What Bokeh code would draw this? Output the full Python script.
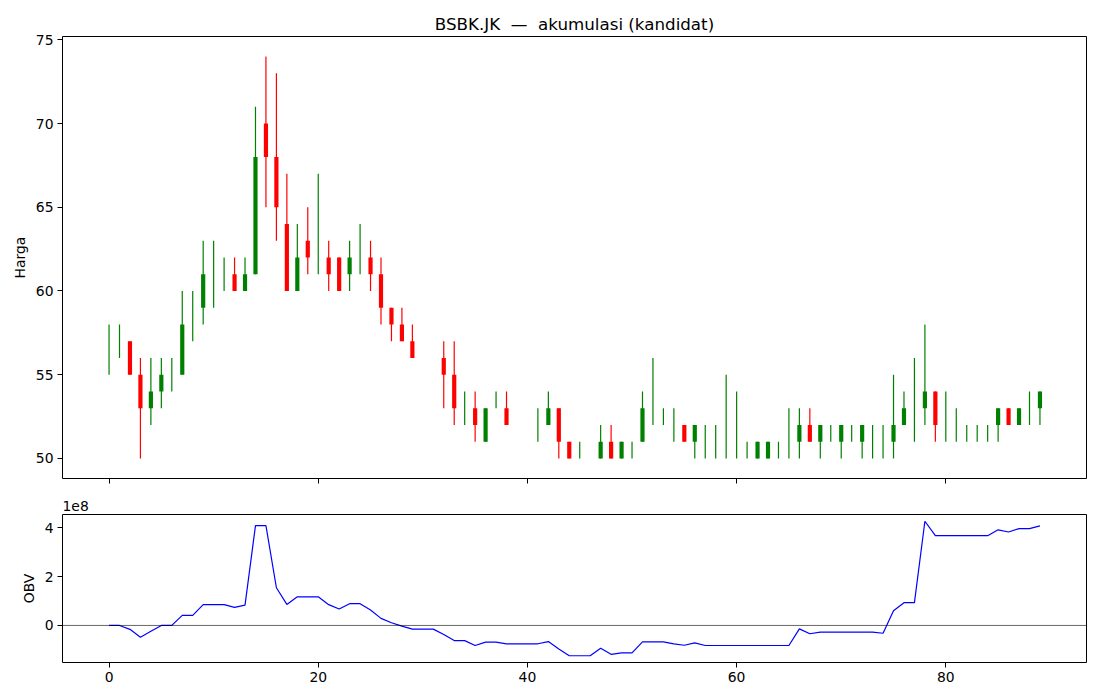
from bokeh.plotting import figure
from bokeh.layouts import column
from bokeh.models import Range1d, FixedTicker, Span, ColumnDataSource, CustomJSTickFormatter
from bokeh.embed import file_html
from bokeh.resources import INLINE

# ---- data ----
idx = list(range(90))
opens = [57, 57, 57, 55, 53, 54, 55, 55, 58, 59,
         61, 61, 61, 60, 61, 70, 68, 64, 60, 63,
         62, 62, 62, 61, 62, 62, 61, 59, 58, 57,
         56, 56, 56, 55, 53, 53, 51, 53, 53, 52,
         52, 52, 52, 53, 51, 50, 50, 50, 51, 50,
         51, 51, 53, 53, 52, 52, 51, 51, 51, 51,
         51, 51, 50, 50, 51, 51, 51, 52, 51, 52,
         51, 52, 51, 52, 51, 51, 52, 53, 53, 54,
         52, 52, 52, 52, 52, 52, 53, 52, 53, 53]
highs = [58, 58, 57, 56, 56, 56, 56, 60, 60, 63,
         63, 62, 62, 62, 71, 74, 73, 67, 64, 65,
         67, 63, 62, 63, 64, 63, 62, 59, 59, 58,
         56, 56, 57, 57, 54, 54, 53, 54, 54, 52,
         52, 53, 54, 53, 51, 51, 50, 52, 52, 51,
         51, 54, 56, 53, 53, 52, 52, 52, 52, 55,
         54, 51, 51, 51, 51, 53, 53, 53, 52, 52,
         52, 52, 52, 52, 52, 55, 54, 56, 58, 54,
         54, 53, 52, 52, 52, 53, 53, 53, 54, 54]
lows = [55, 56, 55, 50, 52, 53, 54, 55, 57, 58,
        59, 60, 60, 60, 61, 65, 63, 60, 60, 61,
        61, 60, 60, 60, 61, 60, 58, 57, 57, 56,
        56, 56, 53, 52, 52, 51, 51, 53, 52, 52,
        52, 51, 52, 50, 50, 50, 50, 50, 50, 50,
        50, 51, 52, 52, 51, 51, 50, 50, 50, 50,
        50, 50, 50, 50, 50, 50, 50, 51, 50, 51,
        50, 51, 50, 50, 50, 50, 52, 51, 52, 51,
        51, 51, 51, 51, 51, 51, 52, 52, 52, 52]
closes = [57, 57, 55, 53, 54, 55, 55, 58, 58, 61,
          61, 61, 60, 61, 68, 68, 65, 60, 62, 62,
          62, 61, 60, 62, 62, 61, 59, 58, 57, 56,
          56, 56, 55, 53, 53, 52, 53, 53, 52, 52,
          52, 52, 53, 51, 50, 50, 50, 51, 50, 51,
          51, 53, 53, 53, 52, 51, 52, 51, 51, 51,
          51, 51, 51, 51, 51, 51, 52, 51, 52, 52,
          52, 52, 52, 52, 51, 52, 53, 53, 54, 52,
          52, 52, 52, 52, 52, 53, 52, 53, 53, 54]
obv = [0.00, 0.00, -0.16, -0.48, -0.24, 0.00, 0.00, 0.41, 0.41, 0.85,
       0.85, 0.85, 0.74, 0.83, 4.08, 4.08, 1.54, 0.86, 1.17, 1.17,
       1.17, 0.85, 0.67, 0.89, 0.89, 0.63, 0.29, 0.11, -0.03, -0.15,
       -0.15, -0.15, -0.37, -0.62, -0.62, -0.82, -0.68, -0.68, -0.75, -0.75,
       -0.75, -0.75, -0.66, -0.96, -1.24, -1.24, -1.24, -0.93, -1.18, -1.12,
       -1.12, -0.67, -0.67, -0.67, -0.75, -0.81, -0.71, -0.82, -0.82, -0.82,
       -0.82, -0.82, -0.82, -0.82, -0.82, -0.82, -0.14, -0.34, -0.27, -0.27,
       -0.27, -0.27, -0.27, -0.27, -0.32, 0.60, 0.93, 0.93, 4.26, 3.67,
       3.67, 3.67, 3.67, 3.67, 3.67, 3.91, 3.82, 3.96, 3.96, 4.07]
obv = [v * 1e8 for v in obv]

title_text = "BSBK.JK \u00a0\u2014\u00a0 akumulasi (kandidat)"
x_ticks = [0, 20, 40, 60, 80]
price_ticks = [50, 55, 60, 65, 70, 75]
obv_ticks = [0, 2e8, 4e8]
obv_tick_labels = {0: "0", 200000000: "2", 400000000: "4"}
obv_scale_text = "1e8"

FONT = "DejaVu Sans"

colors = ["green" if c >= o else "red" for o, c in zip(opens, closes)]
src = ColumnDataSource(dict(
    x=idx, o=opens, h=highs, l=lows, c=closes,
    top=[max(o, c) for o, c in zip(opens, closes)],
    bot=[min(o, c) for o, c in zip(opens, closes)],
    col=colors,
))

xr = Range1d(-4.45, 93.45)


def style(p):
    p.grid.visible = False
    p.outline_line_color = "black"
    p.outline_line_width = 1
    p.axis.axis_line_color = None
    p.axis.minor_tick_line_color = None
    p.axis.major_tick_out = 5
    p.axis.major_tick_in = 0
    p.axis.major_tick_line_color = "black"
    p.axis.major_label_text_font = FONT
    p.axis.major_label_text_font_size = "13.9px"
    p.axis.major_label_text_color = "black"
    p.axis.axis_label_text_font = FONT
    p.axis.axis_label_text_font_size = "13.9px"
    p.axis.axis_label_text_font_style = "normal"
    p.axis.axis_label_text_color = "black"
    p.axis.major_label_standoff = 4
    p.background_fill_color = "white"
    p.border_fill_color = "white"


p1 = figure(width=1092, height=488, x_range=xr, y_range=Range1d(48.8, 75.2),
            output_backend="svg", toolbar_location=None,
            min_border_left=62, min_border_right=6, min_border_top=36, min_border_bottom=10)
p1.title.text = title_text
p1.title.align = "center"
p1.title.text_font = FONT
p1.title.text_font_size = "16.7px"
p1.title.text_font_style = "normal"
p1.title.text_color = "black"
p1.title.standoff = 6
style(p1)
p1.segment(x0="x", y0="l", x1="x", y1="h", color="col", line_width=1.2, source=src)
p1.vbar(x="x", top="top", bottom="bot", width=0.4, fill_color="col", line_color=None, source=src)
p1.xaxis.ticker = FixedTicker(ticks=x_ticks)
p1.xaxis.formatter = CustomJSTickFormatter(code="return ''")
p1.yaxis.ticker = FixedTicker(ticks=price_ticks)
p1.yaxis.axis_label = "Harga"

p2 = figure(width=1092, height=204, x_range=xr, y_range=Range1d(-1.515e8, 4.535e8),
            output_backend="svg", toolbar_location=None,
            min_border_left=62, min_border_right=6, min_border_top=26, min_border_bottom=30)
p2.title.text = obv_scale_text
p2.title.align = "left"
p2.title.offset = 0
p2.title.standoff = 8
p2.title.text_font = FONT
p2.title.text_font_size = "13.9px"
p2.title.text_font_style = "normal"
p2.title.text_color = "black"
style(p2)
p2.add_layout(Span(location=0, dimension="width", line_color="black", line_width=0.8, line_alpha=0.75))
p2.line(idx, obv, line_color="blue", line_width=1.2)
p2.xaxis.ticker = FixedTicker(ticks=x_ticks)
p2.yaxis.ticker = FixedTicker(ticks=obv_ticks)
p2.yaxis.major_label_overrides = obv_tick_labels
p2.yaxis.axis_label = "OBV"

layout = column(p1, p2)
open("out.html", "w").write(file_html(layout, INLINE))
